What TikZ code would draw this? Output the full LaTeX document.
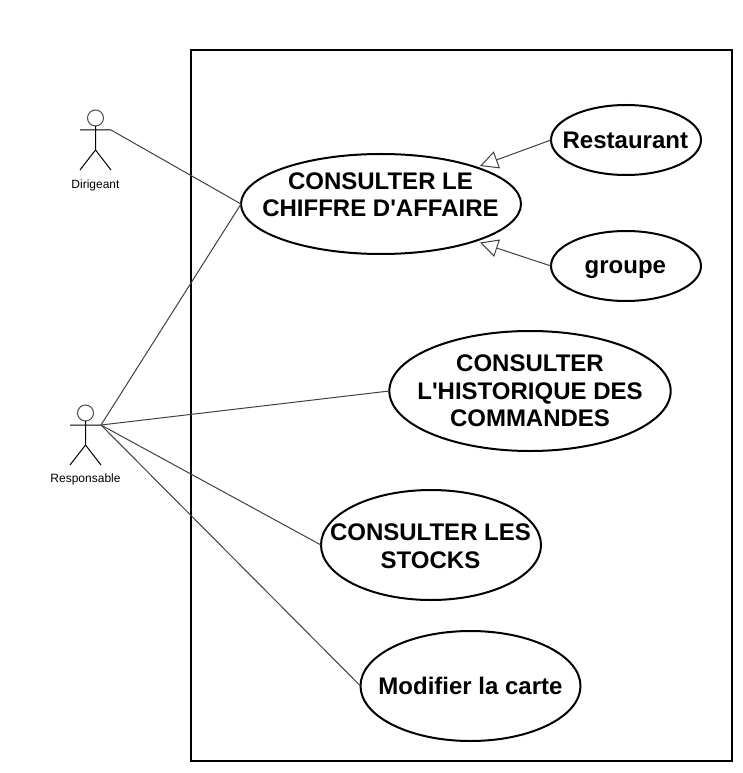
\documentclass[tikz,border=0pt]{standalone}
\usepackage{fontspec}
\setmainfont{Liberation Sans}
\usetikzlibrary{arrows.meta,shapes.geometric}
\tikzset{
  x=0.75pt,y=-0.75pt,
  usecase/.style={draw=black,line width=1.5pt,ellipse,inner sep=0pt,outer sep=0pt},
  uctext/.style={font=\fontsize{18pt}{20.7pt}\selectfont\bfseries,align=center,inner sep=0pt,outer sep=0pt},
  link/.style={draw=black!75,line width=0.75pt},
  gen/.style={link,-{Triangle[open,length=13.5pt,width=13.5pt,fill=white]}},
  stick/.style={draw=black,line width=0.75pt},
  head/.style={circle,draw=black!70,line width=0.75pt,minimum size=12pt,inner sep=0pt,outer sep=0pt},
  lbl/.style={font=\fontsize{9pt}{11pt}\selectfont,inner sep=0pt},
}
\begin{document}
\begin{tikzpicture}
\useasboundingbox (0,0) rectangle (742,773);
\node[rectangle,draw=black,line width=1.5pt,outer sep=0pt,minimum width=405.4pt,minimum height=532.5pt,inner sep=0pt,anchor=north west] (sys) at (191,50.5) {};
% actors
\node[head] (h1) at (95.5,118) {};
\coordinate (la1) at (80,130);
\coordinate (ra1) at (111,130);
\coordinate (hip1) at (95.5,150);
\coordinate (ll1) at (80,170);
\coordinate (rl1) at (111,170);
\draw[stick] (h1.south) -- (hip1) (la1) -- (ra1) (ll1) -- (hip1) -- (rl1);
\node[lbl] (dir) at (95.5,185) {Dirigeant};
\node[head] (h2) at (85.5,413) {};
\coordinate (la2) at (70,425);
\coordinate (ra2) at (101,425);
\coordinate (hip2) at (85.5,445);
\coordinate (ll2) at (70,465);
\coordinate (rl2) at (101,465);
\draw[stick] (h2.south) -- (hip2) (la2) -- (ra2) (ll2) -- (hip2) -- (rl2);
\node[lbl] (resp) at (85.5,479.5) {Responsable};
% use cases
\node[usecase,minimum width=210pt,minimum height=75pt,label={[uctext,yshift=7pt,xshift=-0.4pt]center:{CONSULTER LE\\CHIFFRE D\textquotesingle AFFAIRE}}] (ca) at (381,204) {};
\node[usecase,minimum width=112.5pt,minimum height=52.5pt,label={[uctext,xshift=-0.5pt]center:{Restaurant}}] (rest) at (626,140) {};
\node[usecase,minimum width=112.5pt,minimum height=52.5pt,label={[uctext,yshift=-2.6pt,xshift=-0.5pt]center:{groupe}}] (grp) at (626,266) {};
\node[usecase,minimum width=211pt,minimum height=90pt,label={[uctext]center:{CONSULTER\\L\textquotesingle HISTORIQUE DES\\COMMANDES}}] (hist) at (530,391) {};
\node[usecase,minimum width=165pt,minimum height=82.5pt,label={[uctext,yshift=-1.1pt,xshift=-0.4pt]center:{CONSULTER LES\\STOCKS}}] (stk) at (431,545) {};
\node[usecase,minimum width=165pt,minimum height=82.5pt,label={[uctext]center:{Modifier la carte}}] (mod) at (470.5,686) {};
% connectors
\draw[link] (ra1) -- (ca.west);
\draw[link] (ra2) -- (ca.west);
\draw[link] (ra2) -- (hist.west);
\draw[link] (ra2) -- (stk.west);
\draw[link] (ra2) -- (mod.west);
\coordinate (tipa) at (480,166);
\coordinate (tipb) at (480,242.5);
\draw[gen] (rest.west) -- (tipa);
\draw[gen] (grp.west) -- (tipb);
\end{tikzpicture}
\end{document}
